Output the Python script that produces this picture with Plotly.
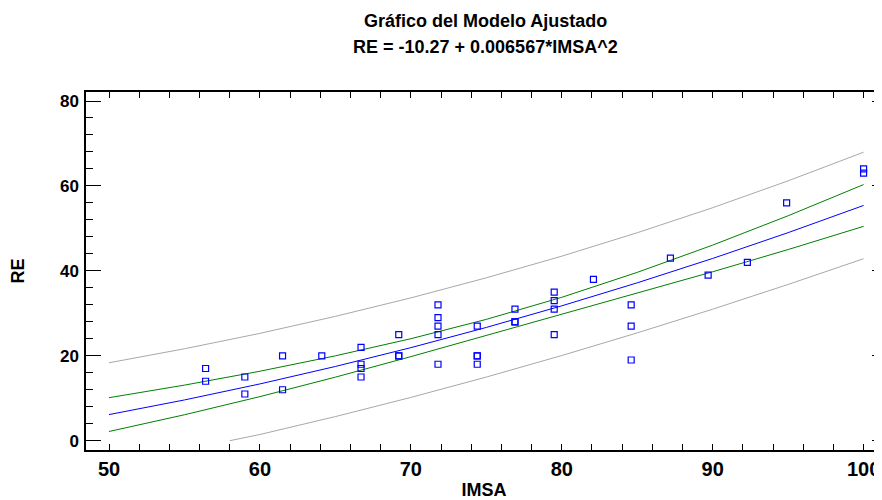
import plotly.graph_objects as go

# Observed data (IMSA, RE)
imsa = [56.4, 56.4, 59.0, 59.0, 61.5, 61.5, 64.1,
        66.7, 66.7, 66.7, 66.7, 69.2, 69.2, 69.2,
        71.8, 71.8, 71.8, 71.8, 71.8, 74.4, 74.4, 74.4, 74.4,
        76.9, 76.9, 76.9, 79.5, 79.5, 79.5, 79.5, 82.1,
        84.6, 84.6, 84.6, 87.2, 89.7, 92.3, 94.9, 100.0, 100.0]
re = [17, 14, 15, 11, 20, 12, 20,
      22, 18, 17, 15, 25, 20, 20,
      32, 29, 27, 25, 18, 27, 20, 20, 18,
      31, 28, 28, 35, 33, 31, 25, 38,
      32, 27, 19, 43, 39, 42, 56, 64, 63]

# Fitted line and limits
x_grid = [50, 55, 60, 65, 70, 75, 80, 85, 90, 95, 100]
fit = [6.15, 9.60, 13.37, 17.48, 21.91, 26.67, 31.76, 37.18, 42.92, 49.00, 55.40]
conf_upper = [10.13, 13.09, 16.36, 19.99, 24.02, 28.57, 33.77, 39.64, 46.06, 52.98, 60.32]
conf_lower = [2.17, 6.11, 10.38, 14.97, 19.80, 24.77, 29.75, 34.72, 39.78, 45.02, 50.48]
pred_upper = [18.35, 21.65, 25.28, 29.28, 33.63, 38.36, 43.46, 48.97, 54.87, 61.20, 67.94]
x_pred_low = [58.0, 60, 65, 70, 75, 80, 85, 90, 95, 100]
pred_lower = [0.0, 1.46, 5.68, 10.19, 14.98, 20.06, 25.39, 30.97, 36.80, 42.86]

x_ticks = [50, 60, 70, 80, 90, 100]
y_ticks = [0, 20, 40, 60, 80]

FONT = "Liberation Sans, Arial, sans-serif"
GRAY = "#A8A8A8"
GREEN = "#008000"
BLUE = "#0000FF"

fig = go.Figure()
fig.add_trace(go.Scatter(x=x_grid, y=pred_upper, mode="lines",
                         line=dict(color=GRAY, width=1), yaxis="y2"))
fig.add_trace(go.Scatter(x=x_pred_low, y=pred_lower, mode="lines",
                         line=dict(color=GRAY, width=1)))
fig.add_trace(go.Scatter(x=x_grid, y=conf_upper, mode="lines",
                         line=dict(color=GREEN, width=1)))
fig.add_trace(go.Scatter(x=x_grid, y=conf_lower, mode="lines",
                         line=dict(color=GREEN, width=1)))
fig.add_trace(go.Scatter(x=x_grid, y=fit, mode="lines",
                         line=dict(color=BLUE, width=1)))
fig.add_trace(go.Scatter(x=imsa, y=re, mode="markers",
                         marker=dict(symbol="square-open", size=6, color=BLUE,
                                     line=dict(color=BLUE, width=1.2))))

yrange = [-2.19, 82.12]

# The page body adds an 8px margin, so the figure is 8px smaller each way.
fig.update_layout(
    width=874, height=492,
    margin=dict(l=78, r=0, t=84, b=50, autoexpand=False),
    paper_bgcolor="white", plot_bgcolor="white",
    showlegend=False,
    font=dict(family=FONT, color="black"),
    xaxis=dict(
        range=[48.476, 101.22], tickvals=x_ticks, ticktext=[str(v) for v in x_ticks],
        showline=True, linecolor="black", linewidth=1.5, mirror="allticks",
        ticks="inside", ticklen=6, tickwidth=1.2, tickcolor="black",
        minor=dict(dtick=2, tick0=0, ticks="inside", ticklen=3, tickwidth=1, tickcolor="black"),
        showgrid=False, zeroline=False,
        tickfont=dict(family=FONT, size=20, weight="bold"),
        title=dict(text="IMSA", font=dict(family=FONT, size=18, weight="bold"), standoff=9),
        automargin=False,
    ),
    yaxis=dict(
        range=yrange, tickvals=y_ticks, ticktext=[str(v) for v in y_ticks],
        showline=True, linecolor="black", linewidth=1.5, mirror=False,
        ticks="inside", ticklen=15, tickwidth=1.2, tickcolor="black",
        minor=dict(dtick=4, tick0=0, ticks="inside", ticklen=7, tickwidth=1, tickcolor="black"),
        showgrid=False, zeroline=False,
        ticklabelstandoff=2,
        tickfont=dict(family=FONT, size=17, weight="bold"),
        title=dict(text="RE", font=dict(family=FONT, size=18, weight="bold"), standoff=32),
        automargin=False,
    ),
    yaxis2=dict(
        overlaying="y", side="right", matches="y", range=yrange,
        tickvals=y_ticks, showticklabels=False, showline=False,
        ticks="inside", ticklen=10, tickwidth=1.2, tickcolor="black",
        minor=dict(dtick=4, tick0=0, ticks="inside", ticklen=4, tickwidth=1, tickcolor="black"),
        showgrid=False, zeroline=False, automargin=False,
    ),
    annotations=[
        dict(text="Gráfico del Modelo Ajustado", xref="paper", yref="paper",
             x=0.5025, y=(450 - 21) / 358, xanchor="center", yanchor="middle",
             showarrow=False, font=dict(family=FONT, size=18, weight="bold")),
        dict(text="RE = -10.27 + 0.006567*IMSA^2", xref="paper", yref="paper",
             x=0.5025, y=(450 - 47) / 358, xanchor="center", yanchor="middle",
             showarrow=False, font=dict(family=FONT, size=18, weight="bold")),
    ],
)

fig.write_html("out.html")
